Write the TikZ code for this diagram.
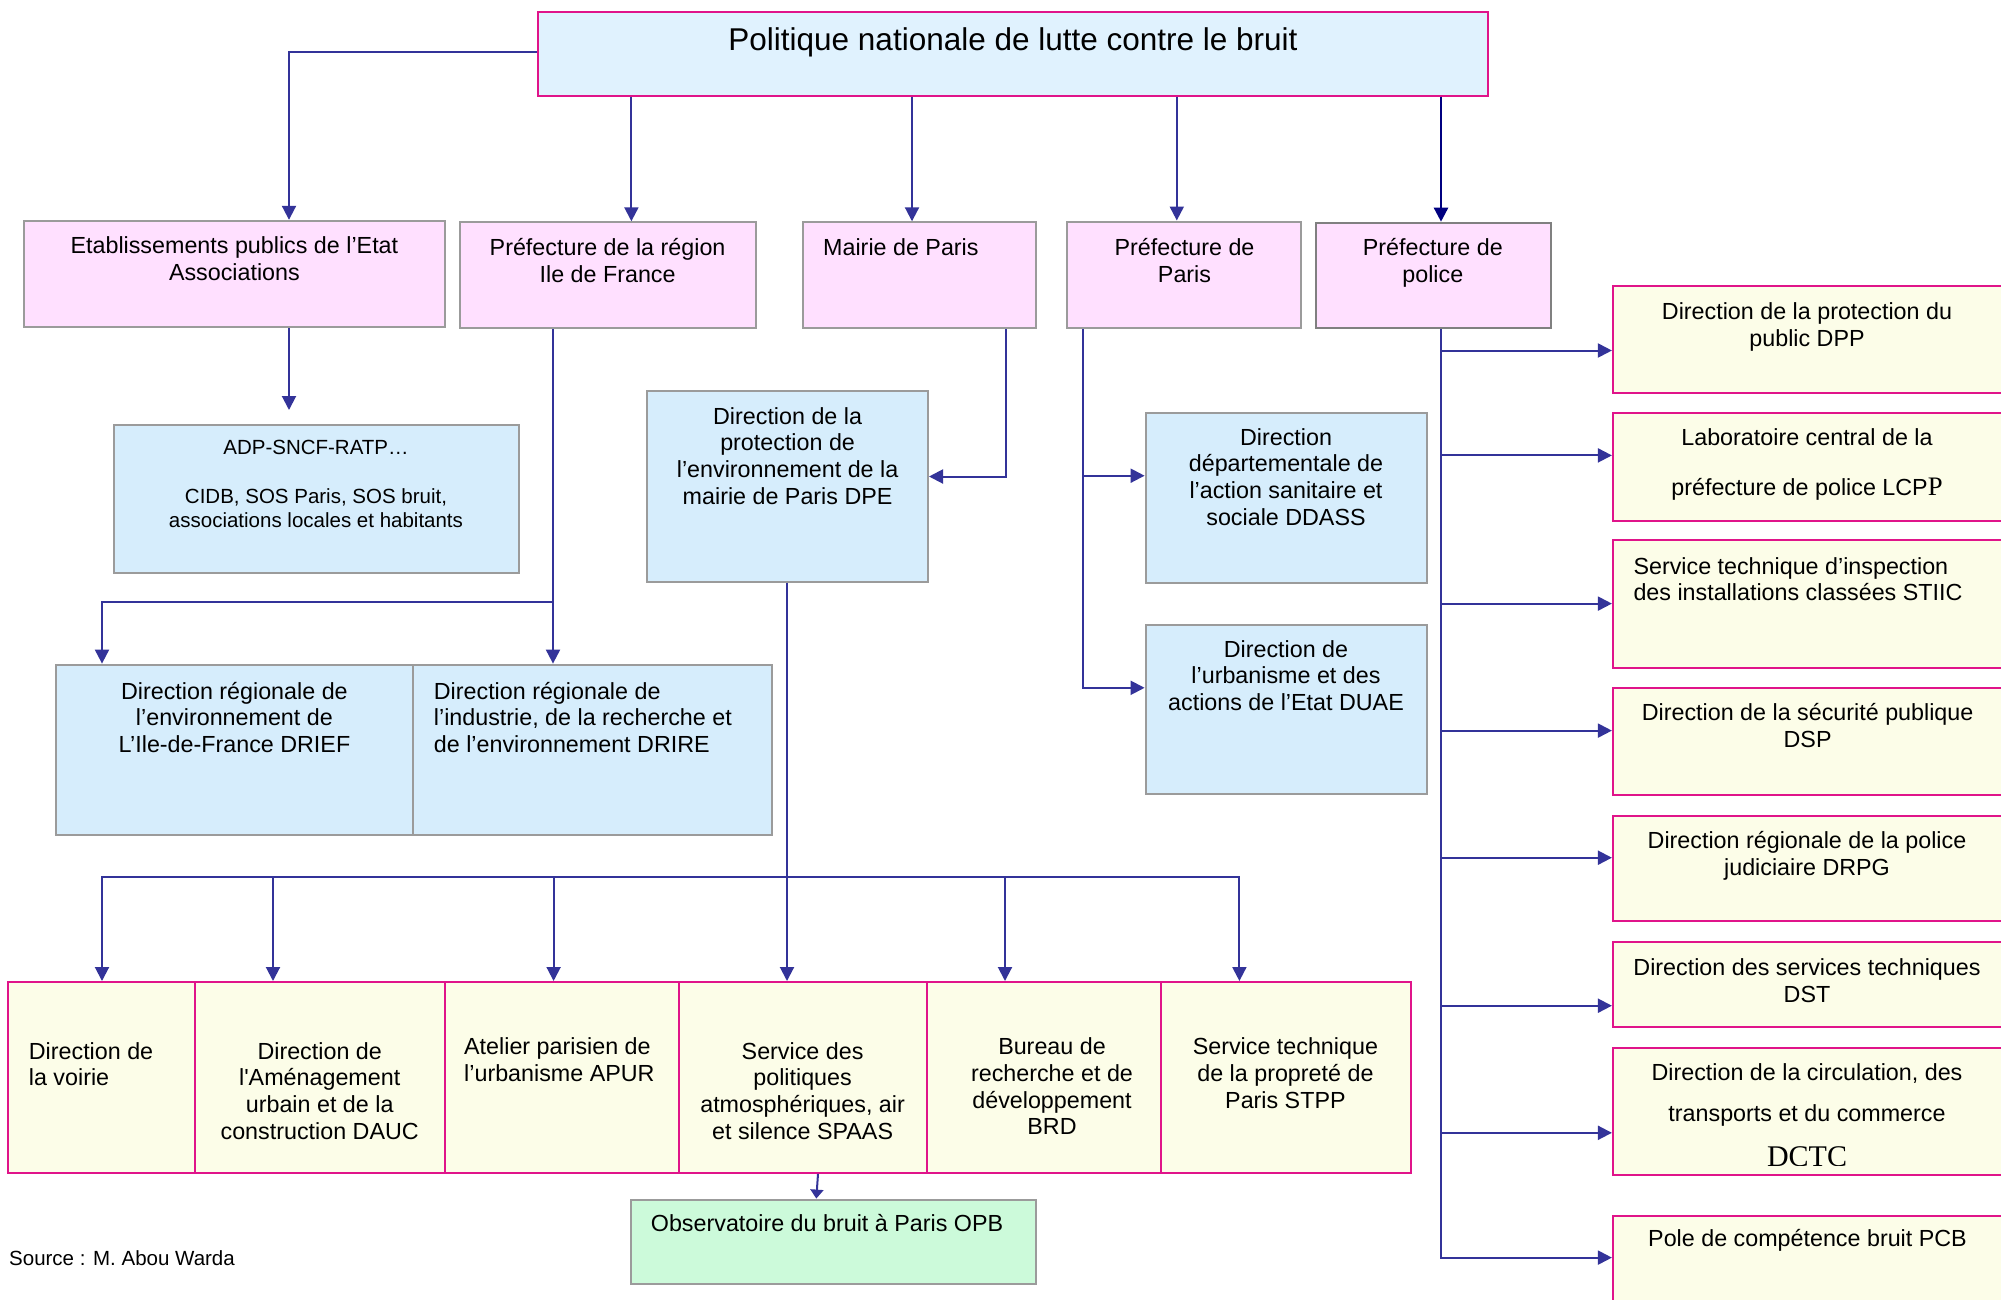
\documentclass[tikz,border=0pt]{standalone}
\usepackage{fontspec}
\setmainfont{Liberation Sans}
\newfontfamily\serifP{Liberation Serif}
\usetikzlibrary{arrows.meta,fit}
\definecolor{arr}{RGB}{51,51,153}
\definecolor{navyc}{RGB}{0,0,128}
\definecolor{mag}{RGB}{224,20,138}
\definecolor{grayb}{RGB}{155,155,155}
\definecolor{grayd}{RGB}{128,128,128}
\definecolor{pinkf}{RGB}{255,224,255}
\definecolor{bluef}{RGB}{214,237,252}
\definecolor{topf}{RGB}{224,242,254}
\definecolor{yelf}{RGB}{252,253,232}
\definecolor{greenf}{RGB}{204,250,218}
\tikzset{
  bx/.style={inner sep=0pt, line width=2pt},
  pinkbox/.style={bx, draw=grayb, fill=pinkf},
  bluebox/.style={bx, draw=grayb, fill=bluef},
  yelbox/.style={bx, draw=mag, fill=yelf},
  topbox/.style={bx, draw=mag, fill=topf},
  greenbox/.style={bx, draw=grayb, fill=greenf},
  txt/.style={inner sep=0pt, align=center, anchor=base, font=\fontsize{23.3}{26.7}\selectfont},
  txtl/.style={txt, align=left, anchor=base west},
  conn/.style={draw=arr, line width=2pt},
  arrow/.style={conn, -{Triangle[length=14pt,width=14pt]}},
}
\begin{document}
\begin{tikzpicture}[x=1pt,y=-1pt]
\useasboundingbox (0,0) rectangle (2001,1299);
\fill[white] (0,0) rectangle (2001,1299);
\clip (0,0) rectangle (2001,1299);

% top (text nodes are anchored at the baseline of their last line)
\node (top) [topbox, fit={(537.6,11.5) (1488.4,95.7)}] {};
\node (topt) [txt, font=\fontsize{31.5}{36}\selectfont] at (1013,50.5) {Politique nationale de lutte contre le bruit};

% row 2
\node (etab) [pinkbox, fit={(23.6,220.8) (444.5,327.2)}] {};
\node (prefr) [pinkbox, fit={(459.8,222.3) (755.7,328.4)}] {};
\node (mairie) [pinkbox, fit={(802.5,222.3) (1036.4,328.4)}] {};
\node (prefp) [pinkbox, fit={(1067,221.5) (1301.3,328.4)}] {};
\node (police) [pinkbox, draw=grayd, fit={(1316,222.7) (1550.5,328.3)}] {};
\node (etabt) [txt] at (234.4,280.1) {Etablissements publics de l’Etat\\Associations};
\node (prefrt) [txt] at (607.6,282) {Préfecture de la région\\Ile de France};
\node (mairiet) [txtl] at (823,255.3) {Mairie de Paris};
\node (prefpt) [txt] at (1184.5,282) {Préfecture de\\Paris};
\node (policet) [txt] at (1432.8,282) {Préfecture de\\police};

% blue boxes
\node (adp) [bluebox, fit={(113.5,424.8) (518.5,572.9)}] {};
\node (dpe) [bluebox, fit={(647.3,391) (928,581.7)}] {};
\node (ddass) [bluebox, fit={(1145.6,412.6) (1426.5,582.5)}] {};
\node (duae) [bluebox, fit={(1145.6,624.5) (1426.5,793.9)}] {};
\node (drief) [bluebox, fit={(55.5,664.6) (413.3,834.5)}] {};
\node (drire) [bluebox, fit={(413.3,664.6) (771.7,834.5)}] {};
\node (adpt) [txt, font=\fontsize{20.5}{24.3}\selectfont] at (316,527.5) {ADP-SNCF-RATP…\\[24.3pt]CIDB, SOS Paris, SOS bruit,\\associations locales et habitants};
\node (dpet) [txt] at (787.6,504.1) {Direction de la\\protection de\\l’environnement de la\\mairie de Paris DPE};
\node (ddasst) [txt] at (1286,525.1) {Direction\\départementale de\\l’action sanitaire et\\sociale DDASS};
\node (duaet) [txt] at (1286,710.4) {Direction de\\l’urbanisme et des\\actions de l’Etat DUAE};
\node (drieft) [txt] at (234.4,752.4) {Direction régionale de\\l’environnement de\\L’Ile-de-France DRIEF};
\node (driret) [txtl] at (433.7,752.4) {Direction régionale de\\l’industrie, de la recherche et\\de l’environnement DRIRE};

% bottom row
\node (voirie) [yelbox, fit={(7.7,982) (195.2,1172.9)}] {};
\node (dauc) [yelbox, fit={(195.2,982) (444.5,1172.9)}] {};
\node (apur) [yelbox, fit={(444.5,982) (678.6,1172.9)}] {};
\node (spaas) [yelbox, fit={(678.6,982) (926.6,1172.9)}] {};
\node (brd) [yelbox, fit={(926.6,982) (1161,1172.9)}] {};
\node (stpp) [yelbox, fit={(1161,982) (1410.5,1172.9)}] {};
\node (voiriet) [txtl] at (28.7,1085.9) {Direction de\\la voirie};
\node (dauct) [txt] at (319.7,1139.3) {Direction de\\l\textquotesingle Aménagement\\urbain et de la\\construction DAUC};
\node (apurt) [txtl] at (464,1081.4) {Atelier parisien de\\l’urbanisme APUR};
\node (spaast) [txt] at (802.6,1139.3) {Service des\\politiques\\atmosphériques, air\\et silence SPAAS};
\node (brdt) [txt] at (1052,1134.8) {Bureau de\\recherche et de\\développement\\BRD};
\node (stppt) [txt] at (1285.4,1108.1) {Service technique\\de la propreté de\\Paris STPP};

\node (opb) [greenbox, fit={(631.4,1199.6) (1036.4,1284.3)}] {};
\node (opbt) [txtl] at (650.7,1231) {Observatoire du bruit à Paris OPB};
\node (source) [txtl, font=\fontsize{20.5}{25}\selectfont] at (9,1265.2) {Source : M. Abou Warda};

% right column
\node (dpp) [yelbox, fit={(1612.9,286.3) (2012,393)}] {};
\node (lcpp) [yelbox, fit={(1612.9,413.3) (2012,520.5)}] {};
\node (stiic) [yelbox, fit={(1612.9,540.4) (2012,667.8)}] {};
\node (dsp) [yelbox, fit={(1612.9,688.3) (2012,794.8)}] {};
\node (drpg) [yelbox, fit={(1612.9,815.8) (2012,921.4)}] {};
\node (dst) [yelbox, fit={(1612.9,942.4) (2012,1027.1)}] {};
\node (dctc) [yelbox, fit={(1612.9,1048) (2012,1175.1)}] {};
\node (pcb) [yelbox, fit={(1612.9,1216.1) (2012,1320)}] {};
\node (dppt) [txt] at (1807,346.3) {Direction de la protection du\\public DPP};
\node (lcppt) [txt] at (1807,495) {Laboratoire central de la\\[23.3pt]préfecture de police LCP{\serifP\fontsize{26.7}{30}\selectfont P}};
\node (stiict) [txtl] at (1633.3,600.7) {Service technique d’inspection\\des installations classées STIIC};
\node (dspt) [txt] at (1807.6,747.1) {Direction de la sécurité publique\\DSP};
\node (drpgt) [txt] at (1807,875.5) {Direction régionale de la police\\judiciaire DRPG};
\node (dstt) [txt] at (1807,1002.5) {Direction des services techniques\\DST};
\node (dctct) [txt] at (1807,1121) {Direction de la circulation, des\\[13.6pt]transports et du commerce};
\begin{scope}
\clip (1612.9,1048) rectangle (2001,1165);
\node (dctcx) [txt, font=\serifP\fontsize{30}{30}\selectfont] at (1807,1166.7) {DCTC};
\end{scope}
\node (pcbt) [txt] at (1807.5,1246) {Pole de compétence bruit PCB};

% connectors
\draw[arrow] (top.west |- 0,51.7) -| (289,0 |- etab.north);
\draw[arrow] (631.4,0 |- top.south) -- (631.4,0 |- prefr.north);
\draw[arrow] (912,0 |- top.south) -- (912,0 |- mairie.north);
\draw[arrow] (1176.8,0 |- top.south) -- (1176.8,0 |- prefp.north);
\draw[arrow, draw=navyc, fill=navyc, line width=2.5pt] (1441,0 |- top.south) -- (1441,0 |- police.north);

\coordinate (adpin) at (289,410);
\draw[arrow] (289,0 |- etab.south) -- (adpin);

\coordinate (j1) at (553,601.8);
\draw[arrow] (553,0 |- prefr.south) -- (553,0 |- drire.north);
\draw[arrow] (j1) -| (102,0 |- drief.north);

\draw[arrow] (1005.5,0 |- mairie.south) |- (dpe.east |- 0,476.5);

\coordinate (bus) at (787,877.3);
\draw[arrow] (787,0 |- dpe.south) -- (787,0 |- spaas.north);
\draw[arrow] (bus) -| (102,0 |- voirie.north);
\draw[arrow] (bus) -| (273,0 |- dauc.north);
\draw[arrow] (bus) -| (553.6,0 |- apur.north);
\draw[arrow] (bus) -| (1005,0 |- brd.north);
\draw[arrow] (bus) -| (1239.4,0 |- stpp.north);

\draw[conn, -{Triangle[length=9pt,width=13pt]}] (818,0 |- spaas.south) -- (816.3,0 |- opb.north);

\coordinate (pj) at (1083,475.7);
\draw[arrow] (1083,0 |- prefp.south) |- (duae.west |- 0,687.8);
\draw[arrow] (pj) -- (ddass.west |- pj);

\draw[arrow] (1441,0 |- police.south) |- (pcb.west |- 0,1257.6);
\foreach \n/\y in {dpp/350.5, lcpp/455.4, stiic/603.6, dsp/730.6, drpg/857.7, dst/1005.7, dctc/1132.8}
  \draw[arrow] (1441,\y) -- (\n.west |- 0,\y);
\end{tikzpicture}
\end{document}
